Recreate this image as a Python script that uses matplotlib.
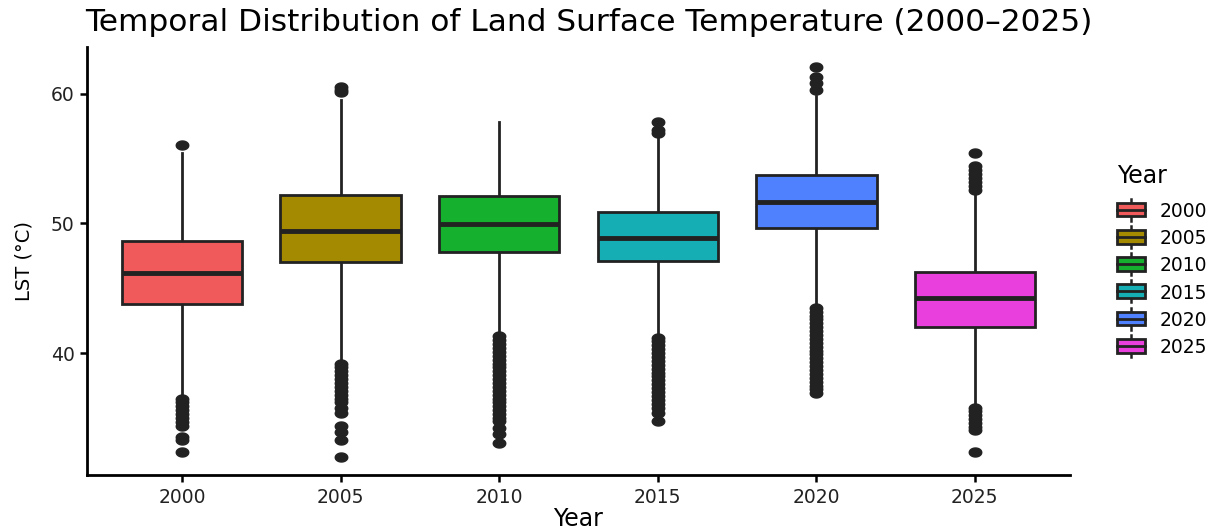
import numpy as np
import matplotlib
matplotlib.use('Agg')
import matplotlib.pyplot as plt
from matplotlib.path import Path
from matplotlib.patches import Rectangle
from matplotlib.lines import Line2D
from matplotlib.legend_handler import HandlerBase

plt.rcParams['font.family'] = ['DejaVu Sans']

# values (LST in degrees C)
years = ['2000', '2005', '2010', '2015', '2020', '2025']
q1 = [43.8, 47.0, 47.8, 47.1, 49.65, 42.0]
med = [46.2, 49.4, 49.95, 48.9, 51.65, 44.25]
q3 = [48.65, 52.2, 52.1, 50.9, 53.75, 46.25]
whis_lo = [36.75, 39.45, 41.6, 41.5, 43.7, 36.0]
whis_hi = [55.4, 59.5, 57.8, 56.7, 59.8, 52.3]
outliers = [
    [56.05, 36.5, 36.2, 35.9, 35.6, 35.3, 35.0, 34.7, 34.4, 33.5, 33.3, 32.35],
    [60.5, 60.3, 60.1, 39.2, 38.9, 38.6, 38.3, 38.0, 37.7, 37.4, 37.1, 36.8,
     36.5, 36.2, 35.8, 35.4, 34.4, 33.9, 33.3, 32.0],
    [41.3, 41.0, 40.7, 40.4, 40.1, 39.8, 39.5, 39.2, 38.9, 38.6, 38.3, 38.0,
     37.7, 37.4, 37.1, 36.8, 36.5, 36.2, 35.9, 35.6, 35.3, 35.0, 34.8, 34.2,
     33.8, 33.1],
    [57.8, 57.2, 57.0, 41.2, 40.9, 40.6, 40.3, 40.0, 39.7, 39.4, 39.1, 38.8,
     38.5, 38.2, 37.9, 37.6, 37.3, 37.0, 36.7, 36.4, 36.1, 35.8, 35.4, 34.8],
    [62.1, 61.3, 60.85, 60.3, 43.5, 43.2, 42.9, 42.6, 42.3, 42.0, 41.7, 41.4,
     41.1, 40.8, 40.5, 40.2, 39.9, 39.6, 39.3, 39.0, 38.7, 38.4, 38.1, 37.8,
     37.5, 37.2, 36.9],
    [55.4, 54.4, 54.1, 53.8, 53.5, 53.2, 52.9, 52.6, 35.8, 35.5, 35.2, 34.9,
     34.6, 34.3, 34.05, 32.4],
]
colors = ['#F05A5A', '#A38A00', '#15B02E', '#15AEB5', '#4F81FF', '#E93FDC']
edge = '#222222'

# slightly wide ellipse marker for the outlier dots
t = np.linspace(0, 2 * np.pi, 40)
dot = Path(np.column_stack([np.cos(t), 0.72 * np.sin(t)]), closed=True)

fig = plt.figure(figsize=(12.31, 5.29), dpi=100)
ax = fig.add_axes([0.0707, 0.102, 0.7985, 0.809])

stats = []
for i, y in enumerate(years):
    stats.append(dict(label=y, q1=q1[i], med=med[i], q3=q3[i],
                      whislo=whis_lo[i], whishi=whis_hi[i], fliers=outliers[i]))

pos = np.arange(1, len(years) + 1)
bp = ax.bxp(stats, positions=pos, widths=0.76, patch_artist=True,
            showcaps=False,
            boxprops=dict(edgecolor=edge, linewidth=2.0),
            medianprops=dict(color=edge, linewidth=3.5, solid_capstyle='butt'),
            whiskerprops=dict(color=edge, linewidth=2.0),
            flierprops=dict(marker=dot, markersize=9, markerfacecolor=edge,
                            markeredgecolor=edge, linestyle='none'))
for patch, c in zip(bp['boxes'], colors):
    patch.set_facecolor(c)
    patch.set_zorder(3)
for m in bp['medians']:
    m.set_zorder(4)

ax.set_xlim(0.4, 6.6)
ax.set_ylim(30.6, 63.6)
ax.set_yticks([40, 50, 60])
ax.set_xticks(pos)
ax.set_xticklabels(years)
ax.tick_params(axis='both', labelsize=13.5, length=5, width=1.8,
               color='black', labelcolor='#222222', pad=4)
for s in ['top', 'right']:
    ax.spines[s].set_visible(False)
for s in ['left', 'bottom']:
    ax.spines[s].set_linewidth(2.0)

ax.set_xlabel('Year', fontsize=17, labelpad=0)
ax.set_ylabel('LST (°C)', fontsize=14, labelpad=12)
fig.text(0.069, 0.958, 'Temporal Distribution of Land Surface Temperature (2000\u20132025)',
         fontsize=22.5, ha='left', va='center')


class BoxKey(HandlerBase):
    def create_artists(self, legend, orig, xd, yd, w, h, fontsize, trans):
        cx = xd + w / 2
        r = Rectangle((xd, yd), w, h,
                      facecolor=orig.get_facecolor(), edgecolor=edge,
                      linewidth=2.0, transform=trans)
        mline = Line2D([xd, xd + w], [yd + h / 2, yd + h / 2],
                       color=edge, linewidth=2.0, transform=trans)
        w1 = Line2D([cx, cx], [yd - h * 0.3, yd], color=edge,
                    linewidth=1.8, transform=trans)
        w2 = Line2D([cx, cx], [yd + h, yd + h * 1.3], color=edge,
                    linewidth=1.8, transform=trans)
        return [w1, w2, r, mline]


handles = [Rectangle((0, 0), 1, 1, facecolor=c) for c in colors]
leg = fig.legend(handles, years, title='Year', loc='upper left',
                 bbox_to_anchor=(0.897, 0.715), frameon=False, fontsize=13.5,
                 title_fontsize=17, handler_map={Rectangle: BoxKey()},
                 handlelength=1.5, handleheight=0.75, labelspacing=0.44,
                 handletextpad=0.78, borderpad=0.2)
leg._legend_box.align = 'left'
leg._legend_box.sep = 10

fig.savefig('out.png', dpi=100)
